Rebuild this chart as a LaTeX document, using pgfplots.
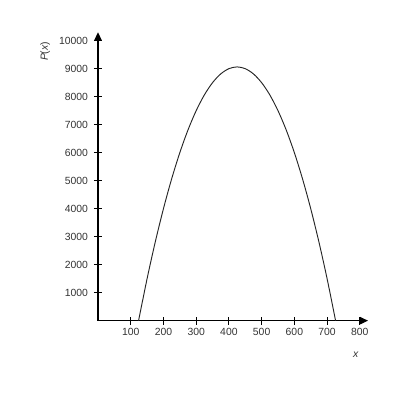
\documentclass[border=0pt]{standalone}
\usepackage{fontspec}
\setmainfont{Liberation Sans}
\usepackage{pgfplots}
\pgfplotsset{compat=1.18}
\usetikzlibrary{arrows.meta}

\definecolor{lbl}{HTML}{333333}

\begin{document}
\begin{tikzpicture}
\begin{axis}[
  scale only axis,
  width=202.5pt, height=216.3pt,
  xmin=0, xmax=825, ymin=0, ymax=10300,
  axis lines=left,
  axis line style={line width=0.8pt, -{Triangle[length=6pt,width=5.5pt]}},
  xtick={100,200,...,800},
  ytick={1000,2000,...,10000},
  scaled ticks=false,
  tick align=center,
  major tick length=6pt,
  tick style={line width=0.8pt, black},
  /pgf/number format/assume math mode=true,
  /pgf/number format/1000 sep={},
  ticklabel style={font=\fontsize{7.8}{9}\selectfont, text=lbl},
  xticklabel style={yshift=1pt},
  yticklabel style={xshift=-1pt},
  xlabel={\textit{x}},
  ylabel={\textit{P}(\textit{x})},
  xlabel style={at={(axis description cs:0.955,-0.119)}, anchor=center, font=\fontsize{7.8}{9}\selectfont, text=lbl},
  ylabel style={at={(axis description cs:-0.196,0.934)}, anchor=center, font=\fontsize{7.8}{9}\selectfont, text=lbl},
  clip=false,
]
\addplot[smooth, line width=0.7pt, color=black!85] coordinates {
(124,0) (150,1500) (175,2812.5) (200,4000) (225,5062.5) (250,6000)
(275,6812.5) (300,7500) (325,8062.5) (350,8500) (375,8812.5) (400,9000)
(425,9062.5) (450,9000) (475,8812.5) (500,8500) (525,8062.5) (550,7500)
(575,6812.5) (600,6000) (625,5062.5) (650,4000) (675,2812.5) (700,1500)
(726,0)
};
\end{axis}
\path[use as bounding box] (-73.5pt,-59.5pt) rectangle (226.5pt,240.5pt);
\end{tikzpicture}
\end{document}
